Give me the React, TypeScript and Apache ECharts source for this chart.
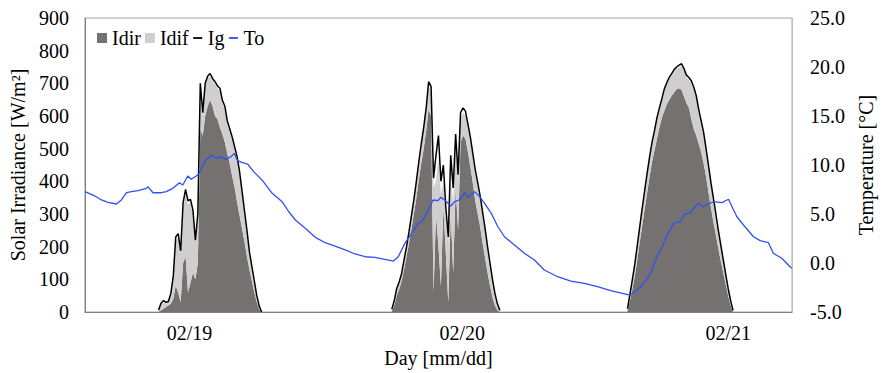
import React, { useEffect, useRef } from 'react';
import * as echarts from 'echarts';

const FONT = 'Liberation Serif';
const DARK = '#767171';
const LIGHT = '#D0CECE';
const BLUE = '#3050F0';

// x axis: hours from the left edge of the plot (3 days)
const spanHours = 72;
const dayLabels = ['02/19', '02/20', '02/21'];
const dayLabelHours = [10.65, 38.43, 65.51];

// solar samples: one block per day, 15-minute spacing from the first sample
const sampleStepHours = 0.25;
const sunriseHours = [7.5, 31.25, 55.25];

const idirDay1 = [0, 5, 10, 15, 20, 25, 40, 80, 60, 30, 150, 170, 60, 90, 120, 100, 150, 560, 540, 600, 630, 650, 630, 600, 590, 565, 545, 520, 485, 455, 415, 380, 335, 295, 255, 215, 170, 130, 95, 60, 30, 8, 0];
const idifDay1 = [5, 17, 20, 13, 10, 27, 60, 135, 168, 150, 170, 190, 270, 245, 180, 112, 130, 80, 60, 90, 85, 72, 78, 98, 95, 110, 95, 100, 90, 95, 110, 115, 127, 125, 105, 85, 70, 45, 35, 25, 12, 4, 0];
const igDay1 = [6, 27, 35, 30, 32, 57, 110, 230, 240, 187, 335, 375, 340, 345, 312, 220, 300, 700, 610, 700, 722, 730, 715, 705, 692, 685, 648, 630, 585, 560, 535, 505, 475, 430, 370, 310, 250, 185, 140, 95, 50, 18, 0];

const idirDay2 = [2, 20, 50, 70, 95, 130, 170, 210, 255, 300, 350, 405, 455, 500, 555, 620, 600, 60, 300, 200, 80, 320, 180, 30, 300, 120, 380, 250, 520, 540, 530, 490, 445, 395, 340, 300, 260, 210, 165, 120, 80, 45, 20, 5, 0];
const idifDay2 = [3, 10, 17, 18, 18, 25, 25, 30, 35, 40, 45, 50, 53, 58, 60, 75, 70, 320, 100, 270, 280, 80, 110, 180, 100, 220, 120, 150, 70, 70, 70, 75, 80, 80, 85, 85, 85, 85, 80, 72, 63, 50, 32, 15, 3];
const igDay2 = [8, 35, 72, 92, 118, 160, 200, 245, 295, 345, 400, 460, 515, 565, 625, 705, 690, 410, 480, 540, 400, 450, 320, 230, 480, 380, 545, 420, 610, 625, 615, 575, 535, 485, 435, 395, 355, 305, 255, 200, 150, 100, 57, 25, 5];

const idirDay3 = [3, 35, 70, 110, 160, 215, 265, 315, 365, 415, 460, 495, 530, 565, 595, 615, 635, 650, 662, 672, 682, 685, 680, 660, 640, 625, 590, 560, 540, 515, 490, 455, 415, 365, 320, 275, 235, 195, 155, 120, 85, 50, 20, 0];
const idifDay3 = [3, 15, 25, 33, 40, 42, 47, 51, 54, 54, 54, 54, 59, 54, 52, 62, 61, 62, 62, 64, 62, 65, 73, 78, 78, 86, 110, 120, 114, 97, 87, 87, 77, 75, 68, 66, 58, 49, 44, 34, 25, 18, 12, 3];
const igDay3 = [10, 55, 100, 148, 205, 262, 318, 372, 425, 475, 520, 555, 595, 625, 653, 683, 702, 718, 730, 742, 750, 756, 760, 745, 725, 718, 708, 688, 662, 620, 585, 550, 500, 448, 395, 348, 300, 250, 205, 160, 115, 72, 35, 5];

// outdoor temperature
const tempHours = [0.0, 1.01, 1.69, 2.36, 3.21, 3.72, 4.23, 4.74, 5.41, 6.26, 6.42, 6.93, 7.78, 8.29, 8.95, 9.63, 9.97, 10.48, 10.82, 11.33, 11.66, 12.17, 12.85, 13.36, 13.86, 14.37, 14.88, 15.21, 15.55, 16.05, 16.56, 17.21, 18.05, 19.07, 20.08, 20.76, 21.43, 22.44, 23.46, 24.47, 25.48, 26.5, 27.51, 28.53, 29.54, 30.55, 31.41, 31.91, 32.58, 33.26, 33.94, 34.45, 34.96, 35.46, 35.97, 36.23, 36.64, 37.25, 37.65, 38.16, 38.67, 39.01, 39.52, 39.68, 40.19, 40.7, 41.38, 42.05, 42.72, 43.74, 44.75, 45.77, 46.78, 48.14, 49.49, 50.84, 52.2, 53.54, 54.73, 55.5, 56.25, 56.92, 57.6, 58.28, 58.79, 59.29, 59.96, 60.64, 60.98, 61.66, 61.99, 62.5, 63.0, 63.51, 64.02, 64.87, 65.38, 65.54, 66.05, 66.39, 67.06, 68.08, 68.76, 69.6, 70.1, 70.96, 71.8, 71.97];
const tempValues = [7.28, 6.84, 6.43, 6.19, 6.02, 6.43, 7.17, 7.28, 7.38, 7.62, 7.79, 7.17, 7.17, 7.28, 7.62, 8.19, 7.96, 8.88, 8.54, 8.88, 9.15, 10.34, 11.02, 10.68, 10.85, 10.58, 10.85, 11.19, 10.44, 10.24, 10.1, 9.3, 8.45, 7.11, 6.26, 5.23, 4.39, 3.54, 2.62, 2.07, 1.73, 1.33, 0.92, 0.64, 0.58, 0.38, 0.2, 0.64, 2.0, 3.03, 4.05, 4.39, 5.41, 6.43, 6.36, 6.7, 6.43, 5.82, 6.26, 6.43, 7.17, 6.7, 7.11, 7.28, 6.77, 6.09, 5.07, 3.7, 2.68, 1.84, 0.99, 0.31, -0.71, -1.4, -1.84, -2.07, -2.42, -2.83, -3.09, -3.27, -2.76, -2.07, -1.05, 0.71, 1.66, 2.86, 4.05, 4.21, 4.9, 5.13, 5.58, 6.09, 5.74, 6.02, 6.26, 6.16, 6.43, 6.5, 5.41, 4.72, 3.88, 2.68, 2.28, 2.07, 0.99, 0.48, -0.38, -0.54];

const slotCount = Math.round(spanHours / sampleStepHours) + 1;
const slotNames = Array.from({ length: slotCount }, (_, k) => String(k * sampleStepHours));

// place each day's samples on the common 15-minute slots (null = no sample)
function onSlots(days: number[][]) {
  const out: (number | null)[] = new Array(slotCount).fill(null);
  days.forEach((vals, d) => {
    const first = Math.round(sunriseHours[d] / sampleStepHours);
    vals.forEach((v, i) => { out[first + i] = v; });
  });
  return out;
}

const DASH = 'path://M0,0M10,10M0.5,4.1h9v1.8h-9z';

export default function App() {
  const ref = useRef<HTMLDivElement>(null);
  useEffect(() => {
    const chart = echarts.init(ref.current!, undefined, { renderer: 'svg' });
    const idir = onSlots([idirDay1, idirDay2, idirDay3]);
    const idif = onSlots([idifDay1, idifDay2, idifDay3]);
    const ig = onSlots([igDay1, igDay2, igDay3]);
    const to = tempHours.map((h, i) => [h, tempValues[i]]);
    chart.setOption({
      animation: false,
      backgroundColor: '#fff',
      textStyle: { fontFamily: FONT, color: '#000' },
      grid: { left: 82, right: 92, top: 18, bottom: 61, show: true, borderColor: '#A6A6A6', borderWidth: 1 },
      legend: {
        left: 97, top: 28, padding: 0, itemWidth: 10, itemHeight: 10, itemGap: 4,
        textStyle: { fontFamily: FONT, fontSize: 20, color: '#000' },
        data: [
          { name: 'Idir', icon: 'rect', itemStyle: { color: DARK, borderWidth: 0 } },
          { name: 'Idif', icon: 'rect', itemStyle: { color: LIGHT, borderWidth: 0 } },
          { name: 'Ig', icon: DASH, itemStyle: { color: '#000', borderWidth: 0 } },
          { name: 'To', icon: DASH, itemStyle: { color: BLUE, borderWidth: 0 } },
        ],
      },
      xAxis: [
        {
          type: 'category', data: slotNames, boundaryGap: false, show: false,
        },
        {
          type: 'value', min: 0, max: spanHours, position: 'bottom',
          name: 'Day [mm/dd]', nameLocation: 'middle', nameGap: 35,
          nameTextStyle: { fontFamily: FONT, fontSize: 20, color: '#000' },
          axisLine: { onZero: false, lineStyle: { color: '#808080', width: 1 } },
          axisTick: { show: false },
          splitLine: { show: false },
          axisLabel: {
            customValues: dayLabelHours,
            fontFamily: FONT, fontSize: 20, color: '#000', margin: 11,
            formatter: (v: number) => {
              const i = dayLabelHours.findIndex((h) => Math.abs(h - v) < 1e-6);
              return i >= 0 ? dayLabels[i] : '';
            },
          },
        },
      ],
      yAxis: [
        {
          type: 'value', min: 0, max: 900, interval: 100, position: 'left',
          name: 'Solar Irradiance [W/m²]', nameLocation: 'middle', nameGap: 47,
          nameTextStyle: { fontFamily: FONT, fontSize: 20, color: '#000' },
          axisLine: { show: true, onZero: false, lineStyle: { color: '#808080', width: 1 } },
          axisTick: { show: false },
          splitLine: { show: false },
          axisLabel: { fontFamily: FONT, fontSize: 20, color: '#000', margin: 16 },
        },
        {
          type: 'value', min: -5, max: 25, interval: 5, position: 'right',
          name: 'Temperature [°C]', nameLocation: 'middle', nameGap: 63,
          nameTextStyle: { fontFamily: FONT, fontSize: 20, color: '#000' },
          axisLine: { show: true, onZero: false, lineStyle: { color: '#BFBFBF', width: 1 } },
          axisTick: { show: false },
          splitLine: { show: false },
          axisLabel: { fontFamily: FONT, fontSize: 20, color: '#000', margin: 18, formatter: (v: number) => v.toFixed(1) },
        },
      ],
      series: [
        {
          name: 'Idir', type: 'line', xAxisIndex: 0, stack: 'I', data: idir, symbol: 'none', showSymbol: false,
          color: DARK, lineStyle: { width: 0, opacity: 0 }, areaStyle: { color: DARK, opacity: 1 },
        },
        {
          name: 'Idif', type: 'line', xAxisIndex: 0, stack: 'I', data: idif, symbol: 'none', showSymbol: false,
          color: LIGHT, lineStyle: { width: 0, opacity: 0 }, areaStyle: { color: LIGHT, opacity: 1 },
        },
        {
          name: 'Ig', type: 'line', xAxisIndex: 0, data: ig, symbol: 'none', showSymbol: false, connectNulls: false,
          color: '#000', lineStyle: { color: '#000', width: 1.5 },
        },
        {
          name: 'To', type: 'line', xAxisIndex: 1, yAxisIndex: 1, data: to, symbol: 'none', showSymbol: false,
          color: BLUE, lineStyle: { color: BLUE, width: 1.3 },
        },
      ],
    });
    return () => chart.dispose();
  }, []);
  return <div ref={ref} style={{ position: 'fixed', left: 0, top: 0, width: 884, height: 373, background: '#fff' }} />;
}
